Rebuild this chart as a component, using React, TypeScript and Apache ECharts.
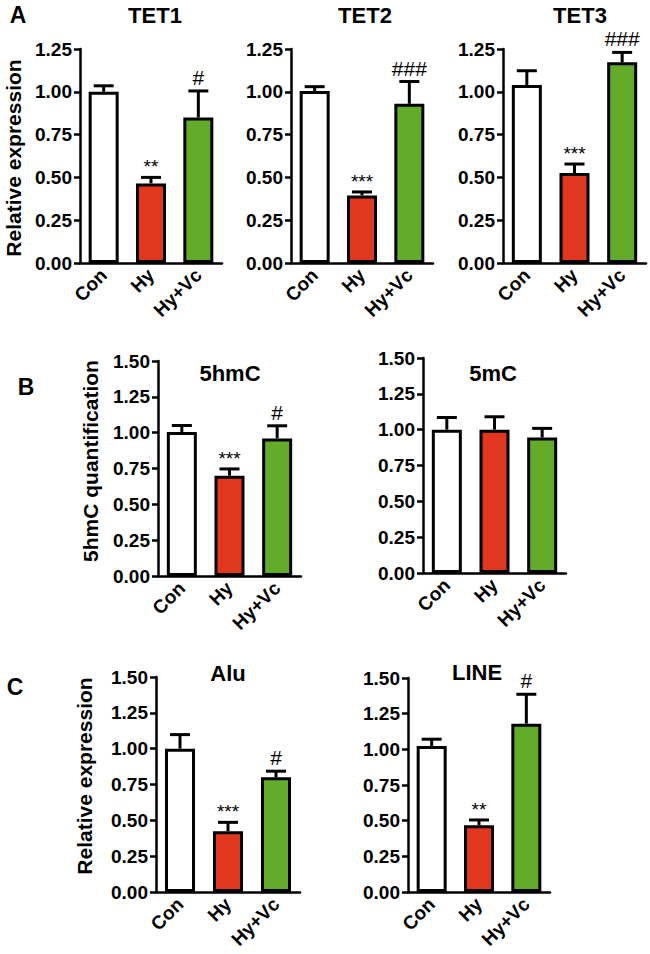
import React, { useEffect, useRef } from "react";
import * as echarts from "echarts";

const categories = ["Con", "Hy", "Hy+Vc"];

const tet1Mean = [1.0, 0.465, 0.85];
const tet1Sem = [0.035, 0.035, 0.155];
const tet1Marks = ["", "**", "#"];

const tet2Mean = [1.005, 0.395, 0.93];
const tet2Sem = [0.025, 0.02, 0.13];
const tet2Marks = ["", "***", "###"];

const tet3Mean = [1.04, 0.525, 1.172];
const tet3Sem = [0.083, 0.053, 0.058];
const tet3Marks = ["", "***", "###"];

const hmcMean = [1.005, 0.7, 0.96];
const hmcSem = [0.045, 0.047, 0.088];
const hmcMarks = ["", "***", "#"];

const mcMean = [1.0, 1.0, 0.946];
const mcSem = [0.085, 0.09, 0.063];
const mcMarks = ["", "", ""];

const aluMean = [1.0, 0.424, 0.8];
const aluSem = [0.098, 0.062, 0.043];
const aluMarks = ["", "***", "#"];

const lineMean = [1.024, 0.468, 1.18];
const lineSem = [0.047, 0.037, 0.206];
const lineMarks = ["", "**", "#"];

const yTicks125 = [0, 0.25, 0.5, 0.75, 1.0, 1.25];
const yTicks150 = [0, 0.25, 0.5, 0.75, 1.0, 1.25, 1.5];

const barColors = ["#ffffff", "#e2371f", "#62ac2a"];
const FONT = "'Liberation Sans', Arial, sans-serif";

type Panel = {
  title: string;
  mean: number[];
  sem: number[];
  marks: string[];
  ticks: number[];
  grid: { left: number; top: number; width: number; height: number };
  titlePos: [number, number];
};

const panels: Panel[] = [
  { title: "TET1", mean: tet1Mean, sem: tet1Sem, marks: tet1Marks, ticks: yTicks125, grid: { left: 80, top: 49, width: 142, height: 214 }, titlePos: [155, 15] },
  { title: "TET2", mean: tet2Mean, sem: tet2Sem, marks: tet2Marks, ticks: yTicks125, grid: { left: 291, top: 49, width: 142, height: 214 }, titlePos: [365, 15] },
  { title: "TET3", mean: tet3Mean, sem: tet3Sem, marks: tet3Marks, ticks: yTicks125, grid: { left: 503, top: 49, width: 143, height: 214 }, titlePos: [580, 15] },
  { title: "5hmC", mean: hmcMean, sem: hmcSem, marks: hmcMarks, ticks: yTicks150, grid: { left: 158, top: 361, width: 143, height: 215 }, titlePos: [230, 373] },
  { title: "5mC", mean: mcMean, sem: mcSem, marks: mcMarks, ticks: yTicks150, grid: { left: 423, top: 358, width: 143, height: 215 }, titlePos: [493, 373] },
  { title: "Alu", mean: aluMean, sem: aluSem, marks: aluMarks, ticks: yTicks150, grid: { left: 156, top: 677, width: 144, height: 215 }, titlePos: [228, 673] },
  { title: "LINE", mean: lineMean, sem: lineSem, marks: lineMarks, ticks: yTicks150, grid: { left: 408, top: 678, width: 142, height: 214 }, titlePos: [477, 672] },
];

export default function App() {
  const ref = useRef<HTMLDivElement>(null);
  useEffect(() => {
    if (!ref.current) return;
    const chart = echarts.init(ref.current, undefined, { renderer: "svg" });
    const grids: any[] = [];
    const xAxes: any[] = [];
    const yAxes: any[] = [];
    const series: any[] = [];
    panels.forEach((p, i) => {
      grids.push({ ...p.grid, containLabel: false });
      xAxes.push({
        type: "category",
        gridIndex: i,
        data: categories,
        axisLine: { lineStyle: { color: "#000", width: 2.5 } },
        axisTick: { alignWithLabel: true, length: 6, lineStyle: { color: "#000", width: 2.5 } },
        axisLabel: { rotate: 45, interval: 0, margin: 9, color: "#000", fontWeight: "bold", fontSize: 19, fontFamily: FONT },
        splitLine: { show: false },
      });
      const max = p.ticks[p.ticks.length - 1];
      yAxes.push({
        type: "value",
        gridIndex: i,
        min: 0,
        max,
        interval: 0.25,
        axisLine: { show: true, lineStyle: { color: "#000", width: 2.5 } },
        axisTick: { show: true, length: 6, lineStyle: { color: "#000", width: 2.5 } },
        axisLabel: { margin: 8, color: "#000", fontWeight: "bold", fontSize: 19, fontFamily: FONT, formatter: (v: number) => v.toFixed(2) },
        splitLine: { show: false },
      });
      series.push({
        type: "bar",
        xAxisIndex: i,
        yAxisIndex: i,
        barWidth: 30,
        data: p.mean.map((m, k) => ({
          value: m,
          itemStyle: { color: barColors[k], borderColor: "#000", borderWidth: 3 },
        })),
        z: 2,
      });
      const marks = p.marks;
      series.push({
        type: "custom",
        xAxisIndex: i,
        yAxisIndex: i,
        clip: false,
        z: 3,
        data: p.mean.map((m, k) => [k, m, m + p.sem[k]]),
        renderItem: (params: any, api: any) => {
          const x = api.value(0);
          const m = api.value(1);
          const u = api.value(2);
          const p0 = api.coord([x, m]);
          const p1 = api.coord([x, u]);
          const lbl = marks[params.dataIndex];
          const isHash = lbl.indexOf("#") >= 0;
          return {
            type: "group",
            children: [
              { type: "line", shape: { x1: p0[0], y1: p0[1], x2: p0[0], y2: p1[1] }, style: { stroke: "#000", lineWidth: 3 } },
              { type: "line", shape: { x1: p0[0] - 10, y1: p1[1], x2: p0[0] + 10, y2: p1[1] }, style: { stroke: "#000", lineWidth: 3 } },
              {
                type: "text",
                x: p0[0],
                y: p1[1] - (isHash ? 3 : 1),
                style: {
                  text: lbl,
                  fill: "#000",
                  font: `${isHash ? 21 : 19}px ${FONT}`,
                  align: "center",
                  verticalAlign: "bottom",
                },
              },
            ],
          };
        },
      });
    });

    const graphics: any[] = [];
    panels.forEach((p) => {
      graphics.push({
        type: "text",
        x: p.titlePos[0],
        y: p.titlePos[1],
        style: { text: p.title, fill: "#000", font: `bold 22px ${FONT}`, align: "center", verticalAlign: "middle" },
      });
    });
    const letters: [string, number, number][] = [
      ["A", 18, 15],
      ["B", 26, 387],
      ["C", 15, 687],
    ];
    letters.forEach(([t, x, y]) => {
      graphics.push({ type: "text", x, y, style: { text: t, fill: "#000", font: `bold 23px ${FONT}`, align: "center", verticalAlign: "middle" } });
    });
    const yTitles: [string, number, number][] = [
      ["Relative expression", 13, 158],
      ["5hmC quantification", 90, 461],
      ["Relative expression", 84, 776],
    ];
    yTitles.forEach(([t, x, y]) => {
      graphics.push({
        type: "text",
        x,
        y,
        rotation: Math.PI / 2,
        style: { text: t, fill: "#000", font: `bold 21px ${FONT}`, align: "center", verticalAlign: "middle" },
      });
    });

    chart.setOption({
      animation: false,
      backgroundColor: "#ffffff",
      grid: grids,
      xAxis: xAxes,
      yAxis: yAxes,
      series,
      graphic: graphics,
    });
    return () => chart.dispose();
  }, []);
  return <div ref={ref} style={{ position: "absolute", left: 0, top: 0, width: 650, height: 954 }} />;
}
